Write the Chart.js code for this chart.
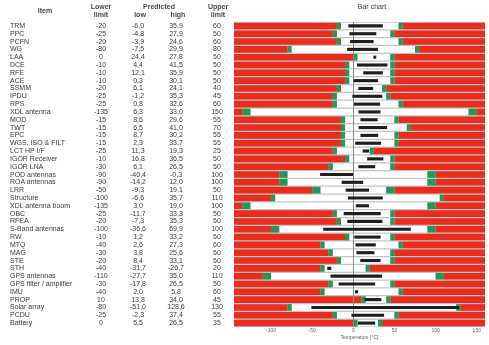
<!DOCTYPE html>
<html>
<head>
<meta charset="utf-8">
<script src="https://cdn.jsdelivr.net/npm/chart.js@4"></script>
<style>
  body { margin: 0; background: #fff; }
  #wrap { position: relative; width: 489px; height: 345px; font-family: "Liberation Sans", Arial, sans-serif; color: #3a3a3a; }
  #wrap canvas { position: absolute; left: 0; top: 0; }
  .t { position: absolute; font-size: 7px; line-height: 8px; white-space: nowrap; }
  .h { font-weight: bold; color: #484848; }
  .c { transform: translateX(-50%); text-align: center; }
</style>
</head>
<body>
<div id="wrap">
  <canvas id="grafico" width="489" height="345"></canvas>
</div>
<script>
// Datos de la tabla (limites y temperaturas previstas, °C)
const items = ["TRM", "PPC", "PCFN", "WG", "LAA", "DCE", "RFE", "ACE", "SSMM", "IPDU", "RPS", "XDL antenna",
  "MOD", "TWT", "EPC", "WGS, ISO & FILT", "LCT HP I/F", "IGOR Receiver", "IGOR LNA", "POD antennas",
  "ROA antennas", "LRR", "Structure", "XDL antenna boom", "OBC", "RFEA", "S-Band antennas", "RW", "MTQ",
  "MAG", "STE", "STH", "GPS antennas", "GPS  filter / amplifier", "IMU", "PROP", "Solar array", "PCDU", "Battery"];
const lowerLimit = [-20, -25, -20, -80, 0, -10, -10, -10, -20, -25, -25, -135,
  -15, -15, -15, -15, -25, -10, -30, -90,
  -90, -50, -100, -135, -25, -20, -100, -10, -40,
  -30, -20, -40, -110, -30, -40, 10, -80, -25, 0];
const predLow = [-6.0, -4.8, -3.9, -7.5, 24.4, 4.4, 12.1, 0.3, 6.1, -1.2, 0.8, 6.3,
  8.6, 6.5, 8.7, 2.3, 11.3, 16.8, 6.1, -40.4,
  -14.2, -9.3, -6.6, 3.0, -11.7, -7.3, -36.6, 1.2, 2.6,
  3.8, 8.4, -31.7, -27.7, -17.8, 2.0, 13.8, -51.0, -2.3, 5.5];
const predHigh = [35.9, 27.9, 24.6, 29.9, 27.8, 41.5, 35.9, 30.1, 24.1, 35.3, 32.6, 33.0,
  29.6, 41.0, 30.2, 33.7, 19.3, 36.5, 26.5, -0.3,
  12.0, 19.1, 35.7, 19.0, 33.3, 35.3, 69.9, 33.2, 27.3,
  25.6, 33.1, -26.7, 35.0, 26.5, 5.8, 34.0, 128.6, 37.4, 26.5];
const upperLimit = [60, 50, 60, 80, 50, 50, 50, 50, 40, 45, 60, 150,
  55, 70, 55, 55, 25, 50, 50, 100,
  100, 50, 110, 100, 50, 50, 100, 50, 60,
  50, 50, 20, 110, 50, 60, 45, 130, 55, 35];
// margen (zona verde) de cada item
const margen = [5, 5, 5, 5, 5, 5, 5, 5, 5, 5, 5, 10,
  5, 5, 5, 5, 5, 5, 5, 10,
  10, 10, 5, 10, 5, 5, 10, 5, 5,
  5, 5, 5, 10, 5, 5, 5, 5, 5, 5];

const X_MIN = -145;
const X_MAX = 160;
const xTicks = [-100, -50, 0, 50, 100, 150];

const ROJO = "#ea2c1f";
const VERDE = "#1f9955";

function fmt(v) {
  return v.toFixed(1).replace(".", ",");
}

function barra(label, data, color, order, pct) {
  return { label, data, backgroundColor: color, order, borderWidth: 0, borderSkipped: false,
    grouped: false, barPercentage: pct || 0.84, categoryPercentage: 1 };
}

// fondo gris y linea del cero
const fondo = {
  id: "fondo",
  beforeDatasetsDraw(chart) {
    const a = chart.chartArea, ctx = chart.ctx;
    ctx.save();
    ctx.fillStyle = "#c4c4c4";
    ctx.fillRect(a.left, a.top, a.right - a.left, a.bottom - a.top);
    ctx.restore();
  },
  beforeDatasetDraw(chart, args) {
    if (args.index !== 0) return;
    const a = chart.chartArea, ctx = chart.ctx;
    const x = Math.round(chart.scales.x.getPixelForValue(0)) + 0.5;
    ctx.save();
    ctx.strokeStyle = "#8a8a8a";
    ctx.lineWidth = 1;
    ctx.beginPath();
    ctx.moveTo(x, a.top);
    ctx.lineTo(x, a.bottom);
    ctx.stroke();
    ctx.restore();
  }
};

const grafico = new Chart(document.getElementById("grafico"), {
  type: "bar",
  data: {
    labels: items,
    datasets: [
      barra("Predicted", items.map((_, i) => [predLow[i], predHigh[i]]), "#1e1e1e", 0, 0.4),
      barra("Margen bajo", items.map((_, i) => [lowerLimit[i], lowerLimit[i] + margen[i]]), VERDE, 1),
      barra("Margen alto", items.map((_, i) => [upperLimit[i] - margen[i], upperLimit[i]]), VERDE, 1),
      barra("Rango", items.map((_, i) => [lowerLimit[i] + margen[i], upperLimit[i] - margen[i]]), "#ffffff", 2),
      barra("Fuera bajo", items.map((_, i) => [X_MIN, lowerLimit[i]]), ROJO, 2),
      barra("Fuera alto", items.map((_, i) => [upperLimit[i], X_MAX]), ROJO, 2)
    ]
  },
  options: {
    indexAxis: "y",
    responsive: false,
    animation: false,
    layout: { padding: { left: 234, right: 4, top: 22, bottom: 4 } },
    plugins: { legend: { display: false }, tooltip: { enabled: false } },
    scales: {
      y: { stacked: false, display: false },
      x: {
        stacked: false,
        min: X_MIN,
        max: X_MAX,
        afterBuildTicks: axis => { axis.ticks = xTicks.map(v => ({ value: v })); },
        grid: { display: false, drawTicks: false },
        border: { display: false },
        ticks: { padding: 1, color: "#666", font: { size: 5, family: "Liberation Sans" } },
        title: { display: true, text: "Temperature [°C]", color: "#666", padding: 0,
          font: { size: 5, family: "Liberation Sans" } }
      }
    }
  },
  plugins: [fondo]
});

// Tabla de texto alineada con las filas del grafico
function texto(txt, x, y, clases) {
  const d = document.createElement("div");
  d.className = "t " + clases;
  d.textContent = txt;
  d.style.left = x + "px";
  d.style.top = (y - 4) + "px";
  document.getElementById("wrap").appendChild(d);
}

function crearTabla() {
  texto("Item", 45, 11, "h c");
  texto("Lower", 101, 7, "h c");
  texto("limit", 101, 15, "h c");
  texto("Predicted", 159, 7, "h c");
  texto("low", 140, 15, "h c");
  texto("high", 178, 15, "h c");
  texto("Upper", 218, 7, "h c");
  texto("limit", 218, 15, "h c");
  texto("Bar chart", 372, 7, "c");

  const escalaY = grafico.scales.y;
  items.forEach((item, i) => {
    const y = escalaY.getPixelForValue(i);
    texto(item, 10, y, "");
    texto(String(lowerLimit[i]), 101, y, "c");
    texto(fmt(predLow[i]), 138, y, "c");
    texto(fmt(predHigh[i]), 176, y, "c");
    texto(String(upperLimit[i]), 217, y, "c");
  });
}

crearTabla();
</script>
</body>
</html>
